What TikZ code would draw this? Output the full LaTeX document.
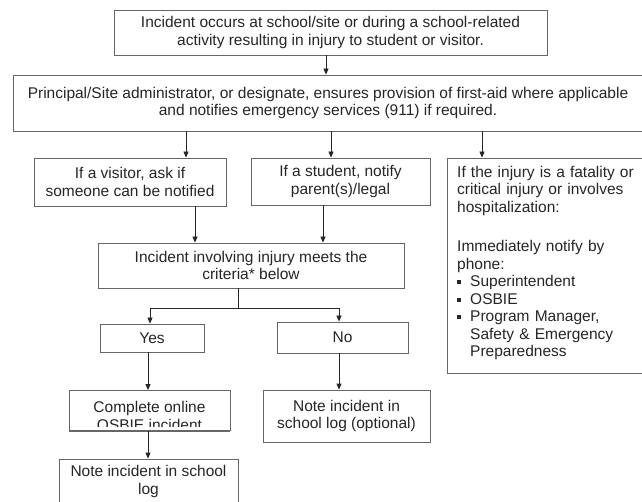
\documentclass[tikz,border=0pt]{standalone}
\usepackage{fontspec}
\setmainfont{Liberation Sans}
\usetikzlibrary{arrows.meta}
\newcommand\flowfont{\fontsize{15.5}{17.5}\selectfont}
\newcommand\sqbul{\makebox[13pt][l]{\rule[2.5pt]{4pt}{4pt}}}
\begin{document}
\begin{tikzpicture}[x=1pt,y=-1pt,
  box/.style={draw=black!60, line width=0.8pt, fill=white, inner sep=0pt, align=center, font=\flowfont, text=black!85},
  txt/.style={inner sep=0pt, align=center, font=\flowfont, text=black!85},
  arr/.style={draw=black!85, line width=0.8pt, -{Triangle[length=6pt,width=5pt]}},
  ln/.style={draw=black!85, line width=0.8pt}]
\clip (0,0) rectangle (642,502);
\fill[white] (0,0) rectangle (642,502);

% boxes
\node[box, minimum width=433pt, minimum height=45pt] (b1) at (330.5,32.5)
  {Incident occurs at school/site or during a school-related\\activity resulting in injury to student or visitor.};
\node[box, minimum width=630pt, minimum height=56pt] (b2) at (328,103)
  {Principal/Site administrator, or designate, ensures provision of first-aid where applicable\\and notifies emergency services (911) if required.};
\node[box, minimum width=192pt, minimum height=48pt] (vis) at (130,182)
  {If a visitor, ask if\\someone can be notified};
\node[box, minimum width=179pt, minimum height=47pt] (stu) at (340.5,181.5)
  {If a student, notify\\parent(s)/legal};
\node[box, minimum width=196pt, minimum height=215pt] (crit2) at (545,265.5) {};
\node[txt, anchor=north west, text width=185pt, align=left] (rtext) at (457,166)
  {If the injury is a fatality or\\critical injury or involves\\hospitalization:\\[22pt]Immediately notify by\\phone:\\\sqbul Superintendent\\\sqbul OSBIE\\\sqbul Program Manager,\\\hspace*{13pt}Safety \& Emergency\\\hspace*{13pt}Preparedness};
\node[box, minimum width=306pt, minimum height=45pt] (crit) at (251,265.5)
  {Incident involving injury meets the\\criteria* below};
\node[box, minimum width=104pt, minimum height=28pt] (yes) at (152,338) {Yes};
\node[box, minimum width=131pt, minimum height=31pt] (no) at (342.5,337.5) {No};
\node[box, minimum width=161pt, minimum height=40pt] (comp) at (149.5,410.5) {};
\begin{scope}
  \clip ([shift={(1pt,-1pt)}]comp.north west) rectangle ([shift={(-1pt,4pt)}]comp.south east);
  \node[txt] (comptext) at (149.5,416) {Complete online\\OSBIE incident};
\end{scope}
\draw[draw=black!60, line width=0.8pt] (comp.south west) -- (comp.south east);
\node[box, minimum width=167pt, minimum height=52pt] (noteopt) at (346.5,416)
  {Note incident in\\school log (optional)};
\node[box, minimum width=179pt, minimum height=61pt] (notelog) at (148.5,489.5) {};
\node[txt] (notelogtext) at (148.5,481.5) {Note incident in school\\log};

% x positions of connectors
\coordinate (xa) at (326,0);
\coordinate (xb) at (186,0);
\coordinate (xc) at (331,0);
\coordinate (xd) at (482,0);
\coordinate (xe) at (195,0);
\coordinate (xf) at (323,0);
\coordinate (xh) at (150,0);
\coordinate (xi) at (339,0);
\coordinate (xj) at (148,0);
\coordinate (split) at (238,308);

% connectors
\draw[arr] (b1.south -| xa) -- (b2.north -| xa);
\draw[arr] (b2.south -| xb) -- (vis.north -| xb);
\draw[arr] (b2.south -| xc) -- (stu.north -| xc);
\draw[arr] (b2.south -| xd) -- (crit2.north -| xd);
\draw[arr] (vis.south -| xe) -- (crit.north -| xe);
\draw[arr] (stu.south -| xf) -- (crit.north -| xf);
\draw[ln] (crit.south -| split) -- (split);
\draw[arr] (split) -| (yes.north -| xh);
\draw[arr] (split) -| (no.north -| xi);
\draw[arr] (yes.south -| xj) -- (comp.north -| xj);
\draw[arr] (no.south -| xi) -- (noteopt.north -| xi);
\draw[arr] (comp.south -| xj) -- (notelog.north -| xj);
\end{tikzpicture}
\end{document}
